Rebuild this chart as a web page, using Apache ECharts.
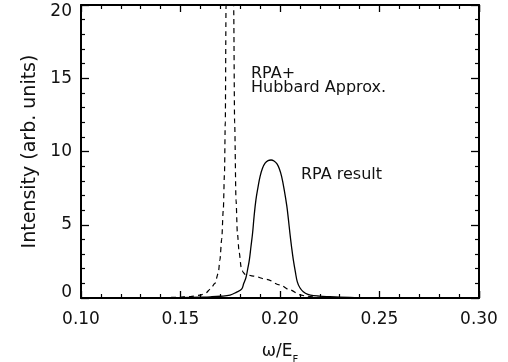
<!DOCTYPE html>
<html>
<head>
<meta charset="utf-8">
<script src="https://cdn.jsdelivr.net/npm/echarts@6/dist/echarts.min.js"></script>
<style>
  html, body { margin: 0; padding: 0; background: #fff; }
  #chart { width: 508px; height: 362px; }
</style>
</head>
<body>
<div id="chart"></div>
<script>
// values
const hubbardX = [0.100, 0.130, 0.140, 0.148, 0.155, 0.160, 0.1625, 0.165, 0.1673, 0.169, 0.1698, 0.1707, 0.1715, 0.1721, 0.1725, 0.1729, 0.1737, 0.1747, 0.1757, 0.1767, 0.1772, 0.1779, 0.1786, 0.1795, 0.1805, 0.1815, 0.1824, 0.1866, 0.1933, 0.200, 0.205, 0.210, 0.2134, 0.220, 0.230, 0.300]
const hubbardY = [0, 0, 0.02, 0.05, 0.1, 0.2, 0.32, 0.6, 1.0, 1.7, 2.6, 4.0, 6.0, 8.5, 12, 20, 40, 55, 40, 20, 12, 6.7, 4.4, 3.1, 2.1, 1.75, 1.62, 1.5, 1.27, 0.89, 0.55, 0.22, 0.12, 0.04, 0.01, 0]

const rpaX = [0.100, 0.140, 0.150, 0.160, 0.165, 0.170, 0.1749, 0.1782, 0.1807, 0.1818, 0.1829, 0.1838, 0.1846, 0.1854, 0.1862, 0.1870, 0.1879, 0.1890, 0.1900, 0.1912, 0.1925, 0.1940, 0.1955, 0.1970, 0.1985, 0.1997, 0.2008, 0.2021, 0.2034, 0.2042, 0.2050, 0.2058, 0.2067, 0.2077, 0.2087, 0.2100, 0.2117, 0.2140, 0.2168, 0.2234, 0.230, 0.240, 0.250, 0.300]
const rpaY = [0, 0.01, 0.03, 0.06, 0.08, 0.12, 0.2, 0.4, 0.6, 1.0, 1.4, 2.0, 2.6, 3.5, 4.4, 5.6, 6.7, 7.6, 8.3, 8.85, 9.2, 9.38, 9.42, 9.35, 9.15, 8.8, 8.3, 7.4, 6.3, 5.4, 4.4, 3.5, 2.6, 1.8, 1.1, 0.7, 0.43, 0.25, 0.16, 0.1, 0.05, 0.01, 0, 0]

const xTicks = [0.10, 0.15, 0.20, 0.25, 0.30]
const yTicks = [0, 5, 10, 15, 20]

const FONT = 'DejaVu Sans'

const chart = echarts.init(document.getElementById('chart'))

function pairs(xs, ys) {
    return xs.map((x, i) => [x, ys[i]])
}

function xAxisOf(pos, showLabel) {
    return {
        type: 'value',
        position: pos,
        min: xTicks[0],
        max: xTicks[xTicks.length - 1],
        interval: xTicks[1] - xTicks[0],
        axisLine: { show: true, onZero: false, lineStyle: { color: '#000', width: 2 } },
        axisTick: { show: true, inside: true, length: 7, lineStyle: { color: '#000', width: 1.3 } },
        minorTick: { show: true, splitNumber: 5, length: 4, lineStyle: { color: '#000', width: 1.2 } },
        splitLine: { show: false },
        axisLabel: {
            show: showLabel,
            margin: 13,
            color: '#111',
            fontFamily: FONT,
            fontSize: 17,
            formatter: v => v.toFixed(2)
        }
    }
}

function yAxisOf(pos, showLabel) {
    return {
        type: 'value',
        position: pos,
        min: yTicks[0],
        max: yTicks[yTicks.length - 1],
        interval: yTicks[1] - yTicks[0],
        axisLine: { show: true, onZero: false, lineStyle: { color: '#000', width: 2 } },
        axisTick: { show: true, inside: true, length: 8, lineStyle: { color: '#000', width: 1.3 } },
        minorTick: { show: true, splitNumber: 5, length: 4, lineStyle: { color: '#000', width: 1.2 } },
        splitLine: { show: false },
        axisLabel: {
            show: showLabel,
            margin: 9,
            color: '#111',
            fontFamily: FONT,
            fontSize: 17,
            formatter: v => {
                if (v === 20) return '{t|20}'
                if (v === 0) return '{b|0}'
                return String(v)
            },
            rich: {
                t: { fontFamily: FONT, fontSize: 17, color: '#111', padding: [13, 0, 0, 0] },
                b: { fontFamily: FONT, fontSize: 17, color: '#111', padding: [0, 0, 10, 0] }
            }
        }
    }
}

const xMain = xAxisOf('bottom', true)
xMain.name = '{w|ω/E}{s|F}'
xMain.nameLocation = 'middle'
xMain.nameGap = 45
xMain.nameTextStyle = {
    rich: {
        w: { fontFamily: FONT, fontSize: 17, color: '#111', lineHeight: 22, verticalAlign: 'top' },
        s: { fontFamily: FONT, fontSize: 10, color: '#111', lineHeight: 10, verticalAlign: 'bottom' }
    }
}

const yMain = yAxisOf('left', true)
yMain.name = 'Intensity (arb. units)'
yMain.nameLocation = 'middle'
yMain.nameGap = 41
yMain.nameTextStyle = { fontFamily: FONT, fontSize: 19, color: '#111' }

const options = {
    animation: false,
    backgroundColor: '#fff',
    grid: { left: 81, right: 29, top: 5, bottom: 64, outerBoundsMode: 'none', containLabel: false },
    xAxis: [xMain, xAxisOf('top', false)],
    yAxis: [yMain, yAxisOf('right', false)],
    series: [
        {
            name: 'RPA+Hubbard',
            type: 'line',
            data: pairs(hubbardX, hubbardY),
            showSymbol: false,
            smooth: 0.3,
            smoothMonotone: 'x',
            clip: true,
            lineStyle: { color: '#000', width: 1.2, type: [5, 4] }
        },
        {
            name: 'RPA',
            type: 'line',
            data: pairs(rpaX, rpaY),
            showSymbol: false,
            smooth: 0.4,
            clip: true,
            lineStyle: { color: '#000', width: 1.3 }
        }
    ],
    graphic: [
        { type: 'text', left: 251, top: 66, style: { text: 'RPA+', fontFamily: FONT, fontSize: 16, fill: '#111' } },
        { type: 'text', left: 251, top: 80, style: { text: 'Hubbard Approx.', fontFamily: FONT, fontSize: 16, fill: '#111' } },
        { type: 'text', left: 301, top: 167, style: { text: 'RPA result', fontFamily: FONT, fontSize: 16, fill: '#111' } }
    ]
}

chart.setOption(options)
</script>
</body>
</html>
